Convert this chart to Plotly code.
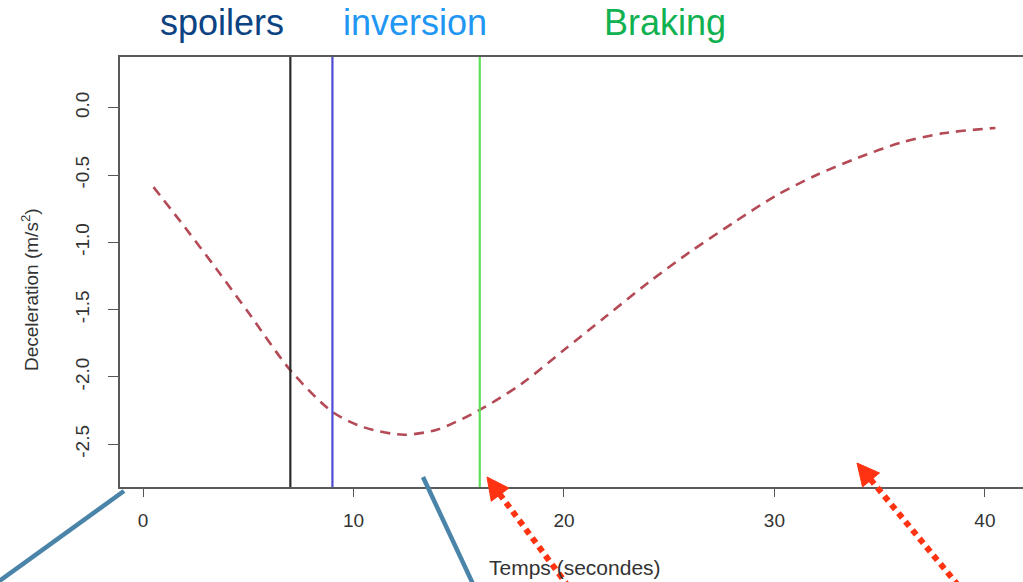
import plotly.graph_objects as go

# ---------------- data ----------------
time_s = [0.5, 2, 3.5, 5, 7, 9, 10.5, 12.4, 14, 16, 18, 20, 22, 24, 26, 28, 30, 32, 34, 36, 38, 40.5]
decel = [-0.59, -0.89, -1.20, -1.52, -1.95, -2.26, -2.375, -2.43, -2.39, -2.245, -2.05,
         -1.80, -1.55, -1.30, -1.07, -0.86, -0.66, -0.50, -0.37, -0.26, -0.19, -0.15]

event_times = [7, 9, 16]
event_line_colors = ["#2b2b2b", "#4b4bd4", "#5ce05c"]
event_labels = ["spoilers", "inversion", "Braking"]
event_label_colors = ["#0c4383", "#2196f3", "#10b150"]

x_ticks = [0, 10, 20, 30, 40]
x_ticklabels = ["0", "10", "20", "30", "40"]
y_ticks = [0.0, -0.5, -1.0, -1.5, -2.0, -2.5]
y_ticklabels = ["0.0", "-0.5", "-1.0", "-1.5", "-2.0", "-2.5"]

# ---------------- layout geometry ----------------
W, H = 1023, 582
ML, MR, MT, MB = 120, 0, 57, 95
PW, PH = W - ML - MR, H - MT - MB
FONT = "Liberation Sans, Arial, Helvetica, sans-serif"


def px(x):
    return (x - ML) / PW


def py(y):
    return (H - MB - y) / PH


fig = go.Figure()

fig.add_trace(go.Scatter(
    x=time_s, y=decel, mode="lines",
    line=dict(color="#b34a56", width=2.6, dash="10px,7px", shape="spline", smoothing=0.8),
    showlegend=False, hoverinfo="skip",
))

shapes = []
for t, c in zip(event_times, event_line_colors):
    shapes.append(dict(type="line", xref="x", yref="paper", x0=t, x1=t, y0=0, y1=1,
                       line=dict(color=c, width=2.2), layer="above"))

# steel-blue pointer lines (decoration)
blue_lines = [((-2, 582), (124, 491)), ((423, 477), (473, 584))]
for (x0, y0), (x1, y1) in blue_lines:
    shapes.append(dict(type="line", xref="paper", yref="paper",
                       x0=px(x0), y0=py(y0), x1=px(x1), y1=py(y1),
                       line=dict(color="#4a84a8", width=4.5), layer="above"))

# red dotted arrows (decoration)
red = "#ff3311"
arrows = [((487, 477), (571, 590)), ((857, 463), (962, 590))]
for (tx, ty), (ex, ey) in arrows:
    dx, dy = ex - tx, ey - ty
    L = (dx * dx + dy * dy) ** 0.5
    ux, uy = dx / L, dy / L
    hl, hw = 22, 11
    bx, by = tx + ux * hl, ty + uy * hl
    nx, ny = -uy, ux
    c1 = (bx + nx * hw, by + ny * hw)
    c2 = (bx - nx * hw, by - ny * hw)
    path = "M {:.5f} {:.5f} L {:.5f} {:.5f} L {:.5f} {:.5f} Z".format(
        px(tx), py(ty), px(c1[0]), py(c1[1]), px(c2[0]), py(c2[1]))
    shapes.append(dict(type="path", xref="paper", yref="paper", path=path,
                       fillcolor=red, line=dict(color=red, width=1), layer="above"))
    shapes.append(dict(type="line", xref="paper", yref="paper",
                       x0=px(bx - ux * 1), y0=py(by - uy * 1), x1=px(ex), y1=py(ey),
                       line=dict(color=red, width=6, dash="6px,5px"), layer="above"))

annotations = []
label_centers = [222, 415, 665]
for lab, col, cx in zip(event_labels, event_label_colors, label_centers):
    annotations.append(dict(text=lab, xref="paper", yref="paper", x=px(cx), y=py(22),
                            xanchor="center", yanchor="middle", showarrow=False,
                            font=dict(family=FONT, size=36, color=col)))

annotations.append(dict(text="Deceleration (m/s<sup>2</sup>)", xref="paper", yref="paper",
                        x=px(30), y=py(290), xanchor="center", yanchor="middle",
                        textangle=-90, showarrow=False,
                        font=dict(family=FONT, size=19, color="#333333")))
annotations.append(dict(text="Temps (secondes)", xref="paper", yref="paper",
                        x=px(575), y=py(567), xanchor="center", yanchor="middle",
                        showarrow=False, font=dict(family=FONT, size=21, color="#333333")))

fig.update_layout(
    width=W, height=H,
    margin=dict(l=ML, r=MR, t=MT, b=MB),
    paper_bgcolor="white", plot_bgcolor="white",
    font=dict(family=FONT, color="#333333"),
    shapes=shapes, annotations=annotations,
    showlegend=False,
)

fig.update_xaxes(
    range=[-1.093, 41.81], tickvals=x_ticks, ticktext=x_ticklabels,
    ticks="outside", ticklen=8, tickwidth=1.3, tickcolor="#555555",
    showline=True, mirror=True, linecolor="#5a5a5a", linewidth=1.6,
    showgrid=False, zeroline=False, tickfont=dict(size=19, color="#333333"),
    ticklabelstandoff=7,
)
fig.update_yaxes(
    range=[-2.818, 0.377], tickvals=y_ticks, ticktext=y_ticklabels, tickangle=-90,
    ticks="outside", ticklen=10, tickwidth=1.3, tickcolor="#555555",
    showline=True, mirror=False, linecolor="#5a5a5a", linewidth=1.6,
    showgrid=False, zeroline=False, tickfont=dict(size=19, color="#333333"),
    ticklabelstandoff=12,
)

fig.write_html("out.html")
